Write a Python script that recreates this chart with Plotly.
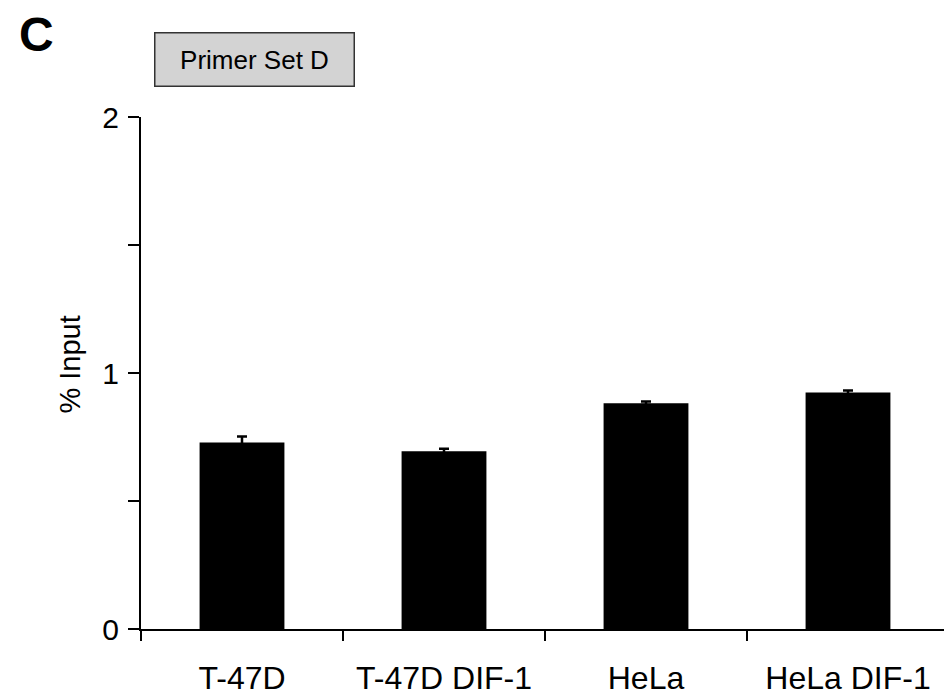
import plotly.graph_objects as go

categories = ["T-47D", "T-47D DIF-1", "HeLa", "HeLa DIF-1"]
values = [0.729, 0.694, 0.882, 0.924]
errors = [0.023, 0.010, 0.007, 0.008]
ytick_vals = [0, 0.5, 1, 1.5, 2]
ytick_text = ["0", "", "1", "", "2"]

FONT = "Liberation Sans, Arial, sans-serif"

# page has an 8px body margin; plot area targets page x 141..949, y 117..632
L, T = 133, 109
PW, PH = 808, 515
W, H = 952, 699

fig = go.Figure()
fig.add_trace(go.Bar(
    x=categories, y=values,
    marker=dict(color="black", line=dict(color="black", width=0)),
    width=0.42,
    error_y=dict(type="data", array=errors, visible=True,
                 color="black", thickness=2.5, width=5),
))

fig.update_layout(
    width=W, height=H,
    paper_bgcolor="white", plot_bgcolor="white",
    margin=dict(l=L, r=W - L - PW, t=T, b=H - T - PH),
    showlegend=False,
    font=dict(family=FONT, color="black", size=30),
    xaxis=dict(
        type="category", range=[-0.5, 3.5],
        showline=True, linecolor="black", linewidth=2,
        ticks="outside", tickson="boundaries", ticklen=10, tickwidth=2, tickcolor="black",
        tickfont=dict(size=32, family=FONT, color="black"),
        showgrid=False, zeroline=False,
        ticklabelstandoff=20,
    ),
    yaxis=dict(
        range=[0, 2],
        tickvals=ytick_vals, ticktext=ytick_text,
        showline=True, linecolor="black", linewidth=2,
        ticks="outside", ticklen=11, tickwidth=2, tickcolor="black",
        tickfont=dict(size=30, family=FONT, color="black"),
        ticklabelstandoff=3,
        showgrid=False, zeroline=False,
    ),
)

def px_to_paper(px, py):
    # page pixel coordinates -> paper coordinates
    return (px - 141) / PW, (632 - py) / PH

cx, cy = px_to_paper(36, 34)
bx, by = px_to_paper(254, 59)
tx, ty = px_to_paper(70, 366)
fig.add_annotation(text="<b>C</b>", x=cx, y=cy, xref="paper", yref="paper",
                   xanchor="center", yanchor="middle", showarrow=False,
                   font=dict(size=48, family=FONT, color="black"))
fig.add_annotation(text="Primer Set D", x=bx, y=by, xref="paper", yref="paper",
                   xanchor="center", yanchor="middle", showarrow=False,
                   font=dict(size=26, family=FONT, color="black"),
                   bgcolor="#d3d3d3", bordercolor="#333333", borderwidth=1.5,
                   width=196, height=50)
fig.add_annotation(text="% Input", x=tx, y=ty, xref="paper", yref="paper",
                   xanchor="center", yanchor="middle", showarrow=False, textangle=-90,
                   font=dict(size=29, family=FONT, color="black"))

fig.write_html("out.html")
